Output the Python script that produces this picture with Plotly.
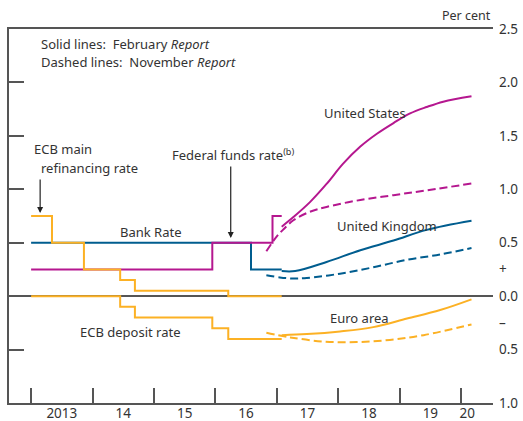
import plotly.graph_objects as go

# ---------------- data ----------------
bank_t = [2013.0, 2016.58, 2017.08]
bank_v = [0.5, 0.25, 0.25]

fed_t = [2013.0, 2015.95, 2016.93, 2017.08]
fed_v = [0.25, 0.5, 0.75, 0.75]

refi_t = [2013.0, 2013.34, 2013.86, 2014.45, 2014.69, 2016.21, 2017.08]
refi_v = [0.75, 0.5, 0.25, 0.15, 0.05, 0.0, 0.0]

dep_t = [2013.0, 2014.45, 2014.69, 2015.95, 2016.21, 2017.08]
dep_v = [0.0, -0.1, -0.2, -0.3, -0.4, -0.4]

us_feb_t = [2017.08, 2017.27, 2017.54, 2017.81, 2018.08, 2018.36, 2018.63, 2018.90, 2019.17, 2019.44, 2019.71, 2020.17]
us_feb_v = [0.65, 0.74, 0.88, 1.05, 1.24, 1.40, 1.52, 1.62, 1.71, 1.77, 1.82, 1.87]

us_nov_t = [2016.83, 2017.0, 2017.1, 2017.27, 2017.54, 2017.81, 2018.36, 2018.90, 2019.44, 2020.17]
us_nov_v = [0.42, 0.56, 0.62, 0.71, 0.79, 0.835, 0.90, 0.945, 0.99, 1.054]

uk_feb_t = [2017.08, 2017.3, 2017.81, 2018.36, 2018.90, 2019.44, 2020.17]
uk_feb_v = [0.235, 0.235, 0.32, 0.43, 0.52, 0.62, 0.705]

uk_nov_t = [2016.83, 2017.05, 2017.27, 2017.49, 2018.03, 2018.57, 2019.12, 2019.66, 2020.17]
uk_nov_v = [0.196, 0.175, 0.165, 0.17, 0.21, 0.27, 0.34, 0.39, 0.45]

ea_feb_t = [2017.08, 2017.49, 2018.03, 2018.57, 2019.12, 2019.66, 2020.17]
ea_feb_v = [-0.365, -0.355, -0.33, -0.29, -0.21, -0.13, -0.03]

ea_nov_t = [2016.83, 2017.22, 2017.76, 2018.30, 2018.84, 2019.39, 2020.17]
ea_nov_v = [-0.343, -0.386, -0.425, -0.43, -0.41, -0.365, -0.265]

year_ticks = [2013, 2014, 2015, 2016, 2017, 2018, 2019, 2020]
year_label_pos = [2013.5, 2014.5, 2015.5, 2016.5, 2017.5, 2018.5, 2019.5, 2020.1]
year_labels = ["2013", "14", "15", "16", "17", "18", "19", "20"]

y_tick_marks = [2.0, 1.5, 1.0, 0.5, 0.0, -0.5]
y_label_pos = [2.5, 2.0, 1.5, 1.0, 0.5, 0.25, 0.0, -0.25, -0.5, -1.0]
y_labels = ["2.5", "2.0", "1.5", "1.0", "0.5", "+", "0.0", "\u2013", "0.5", "1.0"]

# ---------------- style ----------------
BLUE = "#005D8F"
MAG = "#B5178F"
ORANGE = "#FCB124"
AX = "#555555"
TXT = "#333333"
FONT = "Noto Sans"
LW = 2
DASH = "8px,4px"
TS = 13      # annotation text size
TKS = 13.5   # tick label size

fig = go.Figure()

def add(t, v, color, shape, dash="solid"):
    fig.add_trace(go.Scatter(x=t, y=v, mode="lines",
                             line=dict(color=color, width=LW, shape=shape, dash=dash),
                             hoverinfo="skip", showlegend=False))

add(bank_t, bank_v, BLUE, "hv")
add(fed_t, fed_v, MAG, "hv")
add(refi_t, refi_v, ORANGE, "hv")
add(dep_t, dep_v, ORANGE, "hv")
add(uk_nov_t, uk_nov_v, BLUE, "spline", DASH)
add(uk_feb_t, uk_feb_v, BLUE, "spline")
add(us_nov_t, us_nov_v, MAG, "spline", DASH)
add(us_feb_t, us_feb_v, MAG, "spline")
add(ea_nov_t, ea_nov_v, ORANGE, "spline", DASH)
add(ea_feb_t, ea_feb_v, ORANGE, "spline")

XR = [2012.64, 2020.52]
YR = [-1.0, 2.5]

fig.update_layout(
    width=523, height=421,
    margin=dict(l=9, r=30, t=29, b=18, autoexpand=False),
    paper_bgcolor="white", plot_bgcolor="white",
    font=dict(family=FONT, size=TS, color=TXT),
    xaxis=dict(range=XR, showgrid=False, zeroline=False, showline=True, mirror=True,
               linecolor=AX, linewidth=1.5, ticks="inside", ticklen=15, tickwidth=1.5,
               tickcolor=AX, tickvals=year_ticks, showticklabels=False, automargin=False),
    xaxis2=dict(range=XR, overlaying="x", side="bottom", anchor="y", showgrid=False,
                zeroline=False, showline=False, ticks="", tickvals=year_label_pos,
                ticktext=year_labels, automargin=False,
                tickfont=dict(size=TKS, color=TXT, family=FONT)),
    yaxis=dict(range=YR, showgrid=False, zeroline=True, zerolinecolor=AX, zerolinewidth=1.5,
               showline=True, linecolor=AX, linewidth=1.5, ticks="inside", ticklen=15,
               tickwidth=1.5, tickcolor=AX, tickvals=y_tick_marks, showticklabels=False,
               automargin=False),
    yaxis2=dict(range=YR, overlaying="y", side="right", anchor="x", showgrid=False,
                zeroline=False, showline=True, linecolor=AX, linewidth=1.5, ticks="inside",
                ticklen=14, tickwidth=1.5, tickcolor=AX, tickvals=y_tick_marks,
                showticklabels=False, automargin=False),
    yaxis3=dict(range=YR, overlaying="y", side="right", anchor="x", showgrid=False,
                zeroline=False, showline=False, ticks="", tickvals=y_label_pos,
                ticktext=y_labels, ticklabelstandoff=5, automargin=False,
                tickfont=dict(size=TKS, color=TXT, family=FONT)),
)

# invisible trace so the overlay label axes render
fig.add_trace(go.Scatter(x=[XR[0]], y=[YR[0]], xaxis="x2", yaxis="y3", mode="markers",
                         marker=dict(opacity=0), hoverinfo="skip", showlegend=False))

def txt(x, y, s, xanchor="left"):
    fig.add_annotation(x=x, y=y, text=s, showarrow=False, xanchor=xanchor, yanchor="middle",
                       font=dict(family=FONT, size=TS, color=TXT))

fig.add_annotation(xref="paper", yref="paper", x=1, y=1.035, text="Per cent", showarrow=False,
                   xanchor="right", yanchor="middle", font=dict(family=FONT, size=12.5, color=TXT))

txt(2013.13, 2.36, "Solid lines:  February <i>Report</i>")
txt(2013.13, 2.195, "Dashed lines:  November <i>Report</i>")
txt(2013.016, 1.376, "ECB main")
txt(2013.13, 1.198, "refinancing rate")
txt(2015.26, 1.329, "Federal funds rate<sup>(b)</sup>")
txt(2014.95, 0.599, "Bank Rate", "center")
txt(2018.43, 1.713, "United States", "center")
txt(2018.80, 0.658, "United Kingdom", "center")
txt(2018.34, -0.206, "Euro area", "center")
txt(2014.62, -0.334, "ECB deposit rate", "center")

for x, y, ay in [(2013.147, 0.777, -35), (2016.25, 0.543, -73)]:
    fig.add_annotation(x=x, y=y, ax=0, ay=ay, text="", showarrow=True, arrowhead=2,
                       arrowsize=1, arrowwidth=1.2, arrowcolor="#222222")

fig.write_html("out.html", config={"displayModeBar": False},
               post_script="document.body.style.margin='0';document.body.style.overflow='hidden';")
